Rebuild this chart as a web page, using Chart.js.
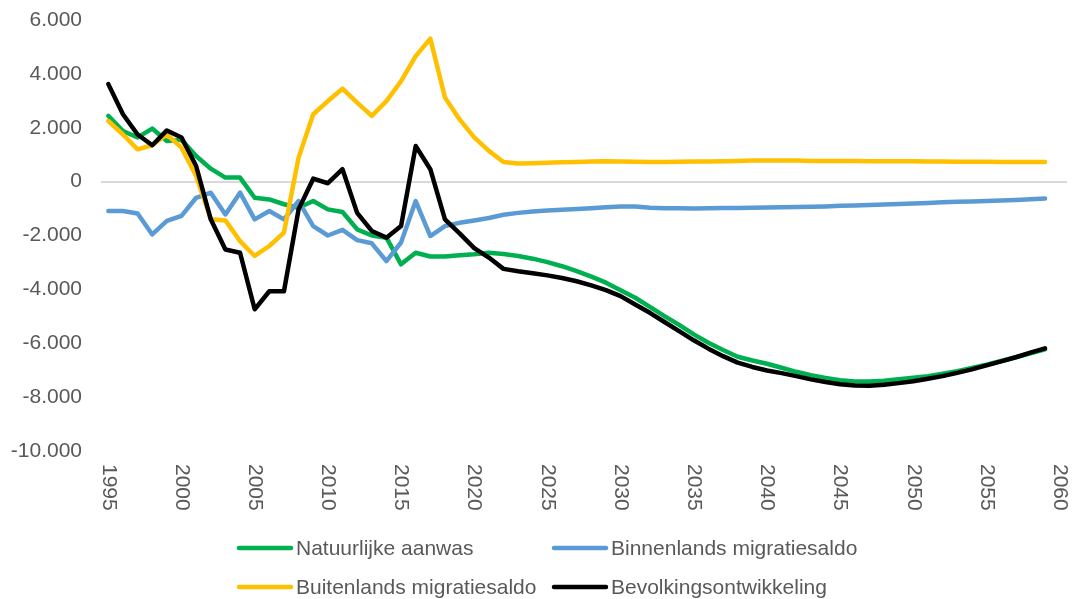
<!DOCTYPE html>
<html>
<head>
<meta charset="utf-8">
<script src="https://cdn.jsdelivr.net/npm/chart.js@4/dist/chart.umd.min.js"></script>
<style>
  html, body { margin: 0; padding: 0; background: #fff; }
  #wrap { width: 1073px; height: 599px; }
</style>
</head>
<body>
<div id="wrap"><canvas id="chart" width="1073" height="599"></canvas></div>
<script>
// categories: 1995..2060 (2060 only carries a tick label)
const years = [
  1995, 1996, 1997, 1998, 1999, 2000, 2001, 2002, 2003, 2004,
  2005, 2006, 2007, 2008, 2009, 2010, 2011, 2012, 2013, 2014,
  2015, 2016, 2017, 2018, 2019, 2020, 2021, 2022, 2023, 2024,
  2025, 2026, 2027, 2028, 2029, 2030, 2031, 2032, 2033, 2034,
  2035, 2036, 2037, 2038, 2039, 2040, 2041, 2042, 2043, 2044,
  2045, 2046, 2047, 2048, 2049, 2050, 2051, 2052, 2053, 2054,
  2055, 2056, 2057, 2058, 2059, 2060
];

const natuurlijkeAanwas = [
  2440, 1880, 1640, 1970, 1510, 1550, 950, 480, 150, 150,
  -600, -660, -840, -970, -720, -1030, -1130, -1770, -2000, -2080,
  -3070, -2640, -2780, -2780, -2730, -2700, -2640, -2690, -2760, -2860,
  -2990, -3140, -3320, -3530, -3750, -4030, -4310, -4650, -4990, -5320,
  -5670, -5980, -6250, -6500, -6640, -6760, -6910, -7060, -7190, -7290,
  -7370, -7420, -7420, -7390, -7340, -7280, -7220, -7130, -7040, -6920,
  -6800, -6660, -6520, -6370, -6230, null
];

const binnenlandsSaldo = [
  -1090, -1090, -1180, -1960, -1460, -1270, -600, -410, -1220, -410,
  -1400, -1090, -1400, -720, -1650, -2000, -1790, -2170, -2290, -2950,
  -2260, -720, -2020, -1650, -1530, -1440, -1350, -1230, -1160, -1110,
  -1070, -1040, -1020, -990, -950, -920, -920, -970, -990, -990,
  -1000, -990, -980, -980, -970, -960, -950, -940, -930, -920,
  -900, -890, -870, -850, -830, -810, -790, -770, -750, -740,
  -720, -700, -680, -650, -630, null
];

const buitenlandsSaldo = [
  2250, 1750, 1200, 1350, 1750, 1260, 210, -1400, -1440, -2210,
  -2760, -2390, -1890, 890, 2500, 2990, 3450, 2930, 2440, 2990,
  3730, 4660, 5310, 3120, 2310, 1640, 1140, 730, 670, 680,
  700, 720, 730, 750, 760, 750, 740, 730, 730, 740,
  750, 750, 760, 770, 780, 780, 780, 780, 770, 770,
  770, 770, 760, 760, 760, 760, 750, 750, 740, 740,
  740, 730, 730, 730, 730, null
];

const bevolkingsontwikkeling = [
  3620, 2500, 1750, 1350, 1900, 1640, 580, -1400, -2520, -2640,
  -4740, -4070, -4070, -1030, 110, -60, 460, -1160, -1830, -2080,
  -1650, 1320, 460, -1400, -1920, -2470, -2820, -3240, -3330, -3400,
  -3480, -3580, -3700, -3850, -4030, -4250, -4560, -4870, -5210, -5550,
  -5890, -6200, -6480, -6720, -6880, -7010, -7110, -7220, -7340, -7440,
  -7520, -7570, -7580, -7540, -7480, -7410, -7320, -7220, -7100, -6970,
  -6820, -6670, -6520, -6350, -6190, null
];

const seriesNames = [
  'Natuurlijke aanwas',
  'Binnenlands migratiesaldo',
  'Buitenlands migratiesaldo',
  'Bevolkingsontwikkeling'
];
const seriesColors = ['#00b050', '#5b9bd5', '#ffc000', '#000000'];

const FONT = '"Liberation Sans", Arial, sans-serif';
const TEXT = '#595959';

// dutch thousands separator: 6.000, -10.000
const fmt = v => (v < 0 ? '-' : '') + String(Math.abs(v)).replace(/\B(?=(\d{3})+(?!\d))/g, '.');

// x labels in excel style: rotated clockwise, read top to bottom
const yearLabels = {
  id: 'yearLabels',
  afterDraw(chart) {
    const { ctx, chartArea } = chart;
    const x = chart.scales.x;
    ctx.save();
    ctx.font = '21px ' + FONT;
    ctx.fillStyle = TEXT;
    ctx.textAlign = 'left';
    ctx.textBaseline = 'middle';
    years.forEach((yr, i) => {
      if (yr % 5 !== 0) return;
      ctx.save();
      ctx.translate(x.getPixelForValue(i), chartArea.bottom + 13);
      ctx.rotate(Math.PI / 2);
      ctx.fillText(String(yr), 0, 0);
      ctx.restore();
    });
    ctx.restore();
  }
};

// 2x2 legend under the chart
const legendGrid = {
  id: 'legendGrid',
  afterDraw(chart) {
    const { ctx } = chart;
    const cols = [237, 552];
    const rows = [548, 587];
    ctx.save();
    ctx.font = '21px ' + FONT;
    ctx.textBaseline = 'middle';
    ctx.textAlign = 'left';
    ctx.lineCap = 'round';
    ctx.lineWidth = 4.5;
    chart.data.datasets.forEach((ds, i) => {
      const lx = cols[i % 2];
      const ly = rows[Math.floor(i / 2)];
      ctx.strokeStyle = ds.borderColor;
      ctx.beginPath();
      ctx.moveTo(lx + 2, ly);
      ctx.lineTo(lx + 54, ly);
      ctx.stroke();
      ctx.fillStyle = TEXT;
      ctx.fillText(ds.label, lx + 59, ly + 1);
    });
    ctx.restore();
  }
};

const datasets = [natuurlijkeAanwas, binnenlandsSaldo, buitenlandsSaldo, bevolkingsontwikkeling]
  .map((data, i) => ({
    label: seriesNames[i],
    data,
    borderColor: seriesColors[i],
    backgroundColor: seriesColors[i],
    borderWidth: 4.5,
    borderCapStyle: 'round',
    borderJoinStyle: 'round',
    pointRadius: 0,
    tension: 0,
    order: 4 - i
  }));

new Chart(document.getElementById('chart'), {
  type: 'line',
  data: { labels: years.map(String), datasets },
  options: {
    responsive: false,
    animation: false,
    devicePixelRatio: 1,
    layout: { padding: { top: 20, right: 6, bottom: 148, left: 0 } },
    plugins: {
      legend: { display: false },
      tooltip: { enabled: false }
    },
    scales: {
      x: {
        offset: true,
        grid: { display: false },
        border: { display: false },
        ticks: { display: false },
        afterFit(scale) { scale.height = 0; }
      },
      y: {
        min: -10000,
        max: 6000,
        border: { display: false },
        grid: {
          drawTicks: false,
          lineWidth: 2,
          color: c => (c.tick && c.tick.value === 0 ? '#d9d9d9' : 'rgba(0,0,0,0)')
        },
        ticks: {
          stepSize: 2000,
          padding: 19,
          color: TEXT,
          font: { family: FONT, size: 21 },
          callback: v => fmt(v)
        },
        afterFit(scale) {
          scale.width = 101;
          scale.paddingTop = 0;
          scale.paddingBottom = 0;
        }
      }
    }
  },
  plugins: [yearLabels, legendGrid]
});
</script>
</body>
</html>
